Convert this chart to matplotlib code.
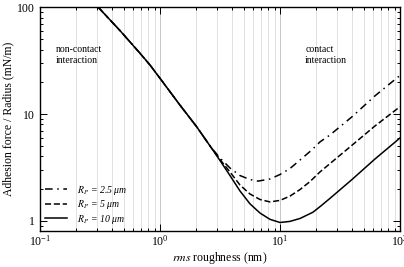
import matplotlib
matplotlib.use("Agg")
import matplotlib.pyplot as plt
from matplotlib.ticker import LogLocator, FixedLocator, NullFormatter

plt.rcParams['font.family'] = ['Liberation Serif', 'DejaVu Serif']
plt.rcParams['mathtext.fontset'] = 'stix'

# rms roughness (nm) where the curves were read
rms_common = [0.306, 0.464, 0.681, 0.825, 1.0, 1.468, 2.02, 2.61]
f_common = [100, 60.5, 37.1, 28.8, 21.6, 12.1, 7.6, 5.02]

rms_tail = [3.16, 3.83, 4.64, 5.62, 6.81, 8.25, 10.0, 12.1, 14.7, 18.8,
            22.0, 26.1, 39.6, 61.9, 100]
f_rp10 = [3.67, 2.65, 1.90, 1.44, 1.18, 1.03, 0.962, 0.985, 1.05, 1.20,
          1.38, 1.62, 2.42, 3.79, 5.96]

rms_tail5 = [3.16, 3.83, 4.64, 5.62, 6.81, 8.25, 10.0, 12.1, 14.7, 17.8,
             21.5, 26.1, 39.6, 61.9, 100]
f_rp5 = [3.75, 2.86, 2.16, 1.78, 1.58, 1.50, 1.55, 1.70, 1.96, 2.33,
         2.86, 3.43, 5.07, 7.73, 11.7]

rms_tail25 = [3.16, 3.83, 4.64, 5.62, 6.56, 8.25, 10.0, 12.1, 14.7, 18.4,
              21.5, 26.1, 39.6, 61.9, 100]
f_rp25 = [3.87, 3.12, 2.65, 2.43, 2.35, 2.46, 2.71, 3.08, 3.71, 4.60,
          5.47, 6.36, 9.37, 14.8, 23.0]

labels = [r'$R_P$ = 2.5 μm', r'$R_P$ = 5 μm', r'$R_P$ = 10 μm']

fig = plt.figure(figsize=(4.04, 2.67), dpi=100)
ax = fig.add_axes([40/404, 1-230.7/267, 360/404, (230.7-7.3)/267])

ax.plot(rms_common + rms_tail25, f_common + f_rp25, color='black', lw=1.1,
        dashes=[5, 3, 1, 3], label=labels[0])
ax.plot(rms_common + rms_tail5, f_common + f_rp5, color='black', lw=1.1,
        dashes=[4, 1.8], label=labels[1])
ax.plot(rms_common + rms_tail, f_common + f_rp10, color='black', lw=1.1,
        label=labels[2])

ax.set_xscale('log')
ax.set_yscale('log')
ax.set_xlim(0.1, 100)
ax.set_ylim(0.806, 100)

ax.xaxis.set_major_locator(LogLocator(base=10, numticks=10))
ax.xaxis.set_minor_locator(LogLocator(base=10, subs=range(2, 10), numticks=10))
ax.yaxis.set_major_locator(FixedLocator([1, 10, 100]))
ax.yaxis.set_minor_locator(LogLocator(base=10, subs=range(2, 10), numticks=10))
ax.yaxis.set_major_formatter(matplotlib.ticker.FuncFormatter(lambda v, p: '%d' % v))
ax.yaxis.set_minor_formatter(NullFormatter())

ax.grid(True, which='minor', axis='x', color='#dcdcdc', lw=0.6)
ax.grid(True, which='major', axis='x', color='#bdbdbd', lw=0.6)
ax.set_axisbelow(True)

ax.tick_params(which='both', direction='in', top=True, right=True, labelsize=8.5,
               width=0.7)
ax.tick_params(which='major', length=5)
ax.tick_params(which='minor', length=2.5)
ax.tick_params(axis='x', pad=2.5)
for s in ax.spines.values():
    s.set_linewidth(1.0)

ax.set_xlabel(r'$rms$ roughness (nm)', fontsize=8.5, labelpad=1)
ax.set_ylabel('Adhesion force / Radius (mN/m)', fontsize=8.5, labelpad=2)

ax.text(0.136, 44, 'non-contact\ninteraction', fontsize=7, va='top', ha='left',
        linespacing=1.2)
ax.text(16.2, 44, 'contact\ninteraction', fontsize=7, va='top', ha='left',
        linespacing=1.2)

leg = ax.legend(loc='upper left', bbox_to_anchor=(0.015, 0.21), frameon=False,
                fontsize=7, handlelength=2.2, handletextpad=1.0,
                labelspacing=0.15, borderaxespad=0, borderpad=0)
for t in leg.get_texts():
    t.set_fontstyle('italic')

fig.savefig('out.png', dpi=100)
